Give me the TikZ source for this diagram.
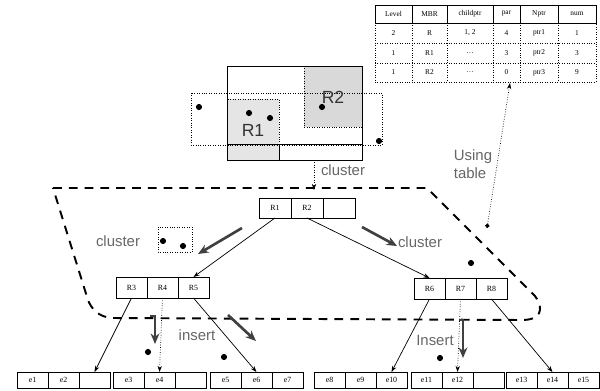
\documentclass[tikz,border=0pt]{standalone}
\usepackage{xcolor}
\usepackage{fontspec}
\setmainfont{Liberation Serif}
\setsansfont{Liberation Sans}
\usepackage{tikz}
\usetikzlibrary{shapes,arrows.meta,positioning}

\begin{document}
\begin{tikzpicture}[
  x=0.02cm, y=-0.02cm,
  cell/.style={draw, outer sep=0pt, inner sep=0pt, minimum width=0.62cm, minimum height=0.42cm, font=\fontsize{4.5}{5}\selectfont},
  rootcell/.style={cell, minimum width=0.64cm, minimum height=0.4cm},
  leafcell/.style={cell, minimum height=0.32cm},
  tabtxt/.style={inner sep=0pt, font=\fontsize{4.2}{5}\selectfont},
  arr/.style={-{Stealth[length=3.5pt,width=2.5pt]}, line width=0.4pt},
  dotarr/.style={arr, densely dotted},
  bigarr/.style={-{Stealth[length=6pt,width=5pt]}, line width=1.5pt, black!75},
  region/.style={line width=1.1pt, dash pattern=on 5pt off 4pt},
  lbl/.style={font=\sffamily\fontsize{8.5}{10}\selectfont, text=black!60, inner sep=1pt},
  rlbl/.style={font=\sffamily\fontsize{10}{12}\selectfont, text=black!80, inner sep=1pt},
  pt/.style={circle, fill, inner sep=0pt, minimum size=3.5pt}
]
  \useasboundingbox (0,0) rectangle (600,390);

  \fill[black!10] (228,99) rectangle (279,160);
  \fill[black!15] (304,66) rectangle (362,127);
  \draw[densely dotted] (191,93) rectangle (382,145);
  \draw[densely dotted] (228,99) -- (279,99) -- (279,144);
  \draw[densely dotted] (304,66) -- (304,127) -- (362,127);
  \draw (227,66) rectangle (362,160);
  \draw (227,144) -- (362,144);
  \draw (279,144) -- (279,160);
  \node[rlbl] (lr1) at (253,130) {R1};
  \node[rlbl] (lr2) at (333,97) {R2};
  \node[pt] (d1) at (199,107) {};
  \node[pt] (d2) at (249,113) {};
  \node[pt] (d3) at (270,118) {};
  \node[pt] (d4) at (322,107) {};
  \node[pt] (d5) at (379,141) {};

  \draw (375,5) rectangle (596,23);
  \draw[densely dotted] (375,23) rectangle (596,82);
  \foreach \y in {43,63}
    \draw[densely dotted] (375,\y) -- (596,\y);
  \foreach \x in {412,447,493,520,558} {
    \draw (\x,5) -- (\x,23);
    \draw[densely dotted] (\x,23) -- (\x,82);
  }
  \foreach \cx/\h/\a/\b/\c [count=\i] in {393.5/Level/2/1/1, 429.5/MBR/R/R1/R2,
      470/childptr/{1, 2}/\ldots/\ldots, 506.5/par/4/3/0, 539/Nptr/ptr1/ptr2/ptr3, 577/num/1/3/9} {
    \node[tabtxt] (hd\i) at (\cx,14) {\h};
    \node[tabtxt] (ra\i) at (\cx,33) {\a};
    \node[tabtxt] (rb\i) at (\cx,53) {\b};
    \node[tabtxt] (rc\i) at (\cx,72.5) {\c};
  }

  \node[rootcell] (r1) at (275,208) {R1};
  \node[rootcell, right=0pt of r1] (r2) {R2};
  \node[rootcell, right=0pt of r2] (r0) {};

  \node[cell] (r3) at (131.5,287.5) {R3};
  \node[cell, right=0pt of r3] (r4) {R4};
  \node[cell, right=0pt of r4] (r5) {R5};
  \node[cell] (r6) at (429.5,288.5) {R6};
  \node[cell, right=0pt of r6] (r7) {R7};
  \node[cell, right=0pt of r7] (r8) {R8};

  \node[leafcell] (e1) at (32.5,380) {e1};
  \node[leafcell, right=0pt of e1] (e2) {e2};
  \node[leafcell, right=0pt of e2] (l1c) {};
  \node[leafcell] (e3) at (128.5,380) {e3};
  \node[leafcell, right=0pt of e3] (e4) {e4};
  \node[leafcell, right=0pt of e4] (l2c) {};
  \node[leafcell] (e5) at (225.5,380) {e5};
  \node[leafcell, right=0pt of e5] (e6) {e6};
  \node[leafcell, right=0pt of e6] (e7) {e7};
  \node[leafcell] (e8) at (329.5,380) {e8};
  \node[leafcell, right=0pt of e8] (e9) {e9};
  \node[leafcell, right=0pt of e9] (e10) {e10};
  \node[leafcell] (e11) at (426.5,380) {e11};
  \node[leafcell, right=0pt of e11] (e12) {e12};
  \node[leafcell, right=0pt of e12] (l5c) {};
  \node[leafcell] (e13) at (521.5,380) {e13};
  \node[leafcell, right=0pt of e13] (e14) {e14};
  \node[leafcell, right=0pt of e14] (e15) {e15};

  \draw[region] (53,188) -- (427,188) -- (535,296)
    .. controls (545,310) and (540,320) .. (522,320) -- (112,318)
    .. controls (98,317) and (91,308) .. (88,300) -- cycle;

  \coordinate (fig) at (314,160);
  \coordinate (tip) at (314,190);
  \draw[dotarr] (fig) -- (tip);
  \node[lbl] (cl0) at (343,170) {cluster};

  \coordinate (tabbot) at (510,83);
  \coordinate (bnd) at (487,228);
  \draw[dotarr, {Circle[length=2.5pt]}-{Stealth[length=3.5pt,width=2.5pt]}] (bnd) -- (tabbot);
  \node[lbl, align=left] (use) at (473,164) {Using\\table};

  \draw[densely dotted] (158,227) rectangle (192,252);
  \node[pt] (d6) at (163,241) {};
  \node[pt] (d7) at (183,246) {};
  \node[lbl] (cl1) at (118,241) {cluster};
  \node[lbl] (cl2) at (420,242) {cluster};
  \node[pt] (d8) at (471,263) {};

  \draw[arr] (r1.south) -- (r5.north);
  \draw[arr] (r2.south) -- (r6.north);
  \draw[arr] (r3.south) -- (l1c.north);
  \draw[dotarr] (r4.south) -- (e4.north);
  \draw[arr] (r5.south) -- (e6.north);
  \draw[arr] (r6.south) -- (e10.north);
  \draw[dotarr] (r7.south) -- (e12.north);
  \draw[arr] (r8.south) -- (e14.north);

  \coordinate (c1a) at (242,228);
  \coordinate (c1b) at (198,254);
  \coordinate (c2a) at (362,227);
  \coordinate (c2b) at (397,246);
  \coordinate (i1a) at (150,316);
  \coordinate (i1b) at (155,344);
  \coordinate (i2a) at (228,315);
  \coordinate (i2b) at (256,341);
  \coordinate (i3a) at (459,320);
  \coordinate (i3b) at (463,358);
  \draw[bigarr] (c1a) -- (c1b);
  \draw[bigarr] (c2a) -- (c2b);
  \draw[bigarr] (i1a) -| (i1b);
  \draw[bigarr] (i2a) -- (i2b);
  \draw[bigarr] (i3a) -| (i3b);

  \node[lbl] (ins1) at (197,335) {insert};
  \node[lbl] (ins2) at (435,340) {Insert};
  \node[pt] (d9) at (148,352) {};
  \node[pt] (d10) at (224,357) {};
  \node[pt] (d11) at (440,358) {};
\end{tikzpicture}
\end{document}
